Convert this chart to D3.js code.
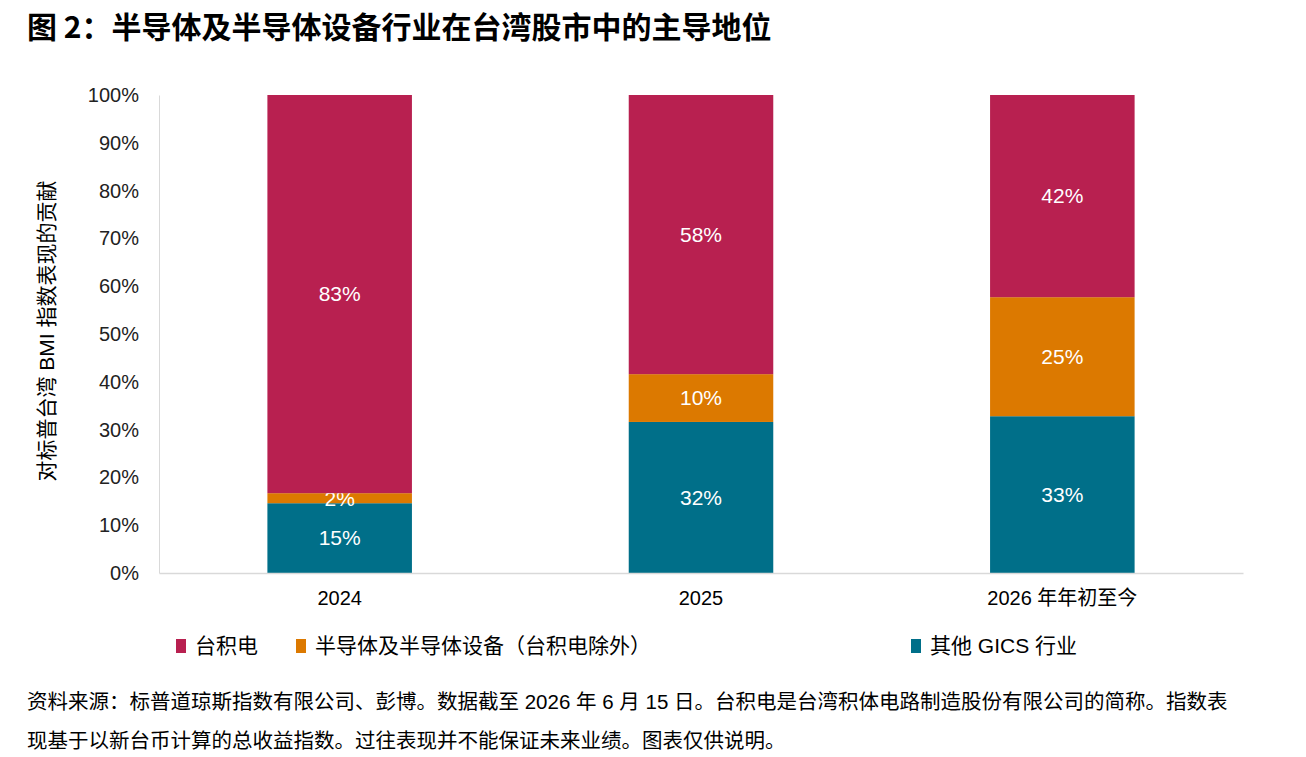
<!DOCTYPE html>
<html lang="zh">
<head>
<meta charset="UTF-8">
<title>半导体及半导体设备行业在台湾股市中的主导地位</title>
<script src="https://d3js.org/d3.v7.min.js"></script>
<style>
  body { margin: 0; background: #fff; }
  svg text { font-family: "Liberation Sans", Arial, "Noto Sans CJK SC", sans-serif; }
</style>
</head>
<body>
<div id="chart"></div>
<script>
// data (share of index performance, %)
var categories = ["2024", "2025", "2026 年年初至今"];
var seriesNames = ["其他 GICS 行业", "半导体及半导体设备（台积电除外）", "台积电"];
var otherGics = [14.6, 31.6, 32.8];
var semiExTsmc = [2.1, 10.0, 24.9];
var tsmc = [83.3, 58.4, 42.3];
var yTicks = [0, 10, 20, 30, 40, 50, 60, 70, 80, 90, 100];
var legendOrder = ["台积电", "半导体及半导体设备（台积电除外）", "其他 GICS 行业"];

var colors = {
  "台积电": "#B82050",
  "半导体及半导体设备（台积电除外）": "#DC7900",
  "其他 GICS 行业": "#006F89"
};

var W = 1306, H = 757;
var margin = { top: 95, right: 63, bottom: 184, left: 159 };
var width = W - margin.left - margin.right,
    height = H - margin.top - margin.bottom;

var svg = d3.select("#chart").append("svg")
  .attr("width", W).attr("height", H);

// title
svg.append("text")
  .attr("x", 27).attr("y", 38)
  .style("font-family", "'Noto Sans CJK SC', sans-serif")
  .style("font-weight", 700)
  .style("font-size", "30px")
  .attr("fill", "#000")
  .text("图 2：半导体及半导体设备行业在台湾股市中的主导地位");

var g = svg.append("g")
  .attr("transform", "translate(" + margin.left + "," + margin.top + ")");

// build table for the stack
var table = categories.map(function (c, i) {
  var row = { cat: c };
  row[seriesNames[0]] = otherGics[i];
  row[seriesNames[1]] = semiExTsmc[i];
  row[seriesNames[2]] = tsmc[i];
  return row;
});
var stacked = d3.stack().keys(seriesNames)(table);

var x = d3.scaleBand()
  .domain(categories)
  .range([0, width])
  .paddingInner(0.6)
  .paddingOuter(0.3);

var y = d3.scaleLinear()
  .domain([0, 100])
  .range([height, 0]);

// y axis
var yAxis = g.append("g")
  .call(d3.axisLeft(y).tickValues(yTicks).tickFormat(function (d) { return d + "%"; }).tickSize(0).tickPadding(20));
yAxis.select(".domain").attr("stroke", "#d9d9d9");
yAxis.selectAll("text")
  .style("font-size", "20px")
  .attr("fill", "#222");

// bars
var layer = g.selectAll(".layer")
  .data(stacked)
  .enter().append("g")
  .attr("fill", function (d) { return colors[d.key]; });

layer.selectAll("rect")
  .data(function (d) { return d; })
  .enter().append("rect")
  .attr("x", function (d) { return x(d.data.cat); })
  .attr("y", function (d) { return y(d[1]); })
  .attr("width", x.bandwidth())
  .attr("height", function (d) { return y(d[0]) - y(d[1]); });

layer.selectAll("text")
  .data(function (d) { return d; })
  .enter().append("text")
  .attr("x", function (d) { return x(d.data.cat) + x.bandwidth() / 2; })
  .attr("y", function (d) { return (y(d[0]) + y(d[1])) / 2; })
  .attr("dy", "0.35em")
  .attr("text-anchor", "middle")
  .attr("fill", "#fff")
  .style("font-size", "21px")
  .text(function (d) { return Math.round(d[1] - d[0]) + "%"; });

// x axis
var xAxis = g.append("g")
  .attr("transform", "translate(0," + height + ")")
  .call(d3.axisBottom(x).tickSize(0).tickPadding(18));
xAxis.select(".domain").attr("stroke", "#d9d9d9").attr("stroke-width", 1.5);
xAxis.selectAll("text")
  .style("font-size", "20px")
  .attr("fill", "#000");

// y axis title
svg.append("text")
  .attr("transform", "translate(54," + (margin.top + 236) + ") rotate(-90)")
  .attr("text-anchor", "middle")
  .style("font-size", "21px")
  .attr("fill", "#000")
  .text("对标普台湾 BMI 指数表现的贡献");

// legend
var legendX = [176, 296, 911];
var legend = svg.selectAll(".legend")
  .data(legendOrder)
  .enter().append("g")
  .attr("transform", function (d, i) { return "translate(" + legendX[i] + ",646)"; });
legend.append("rect")
  .attr("x", 0).attr("y", -7)
  .attr("width", 10).attr("height", 14)
  .attr("fill", function (d) { return colors[d]; });
legend.append("text")
  .attr("x", 19).attr("dy", "0.35em")
  .style("font-size", "21px")
  .attr("fill", "#000")
  .text(function (d) { return d; });

// footnote
var notes = [
  "资料来源：标普道琼斯指数有限公司、彭博。数据截至 2026 年 6 月 15 日。台积电是台湾积体电路制造股份有限公司的简称。指数表",
  "现基于以新台币计算的总收益指数。过往表现并不能保证未来业绩。图表仅供说明。"
];
svg.selectAll(".note")
  .data(notes)
  .enter().append("text")
  .attr("x", 27)
  .attr("y", function (d, i) { return 709 + i * 39; })
  .style("font-size", "20.5px")
  .attr("fill", "#000")
  .text(function (d) { return d; });
</script>
</body>
</html>
